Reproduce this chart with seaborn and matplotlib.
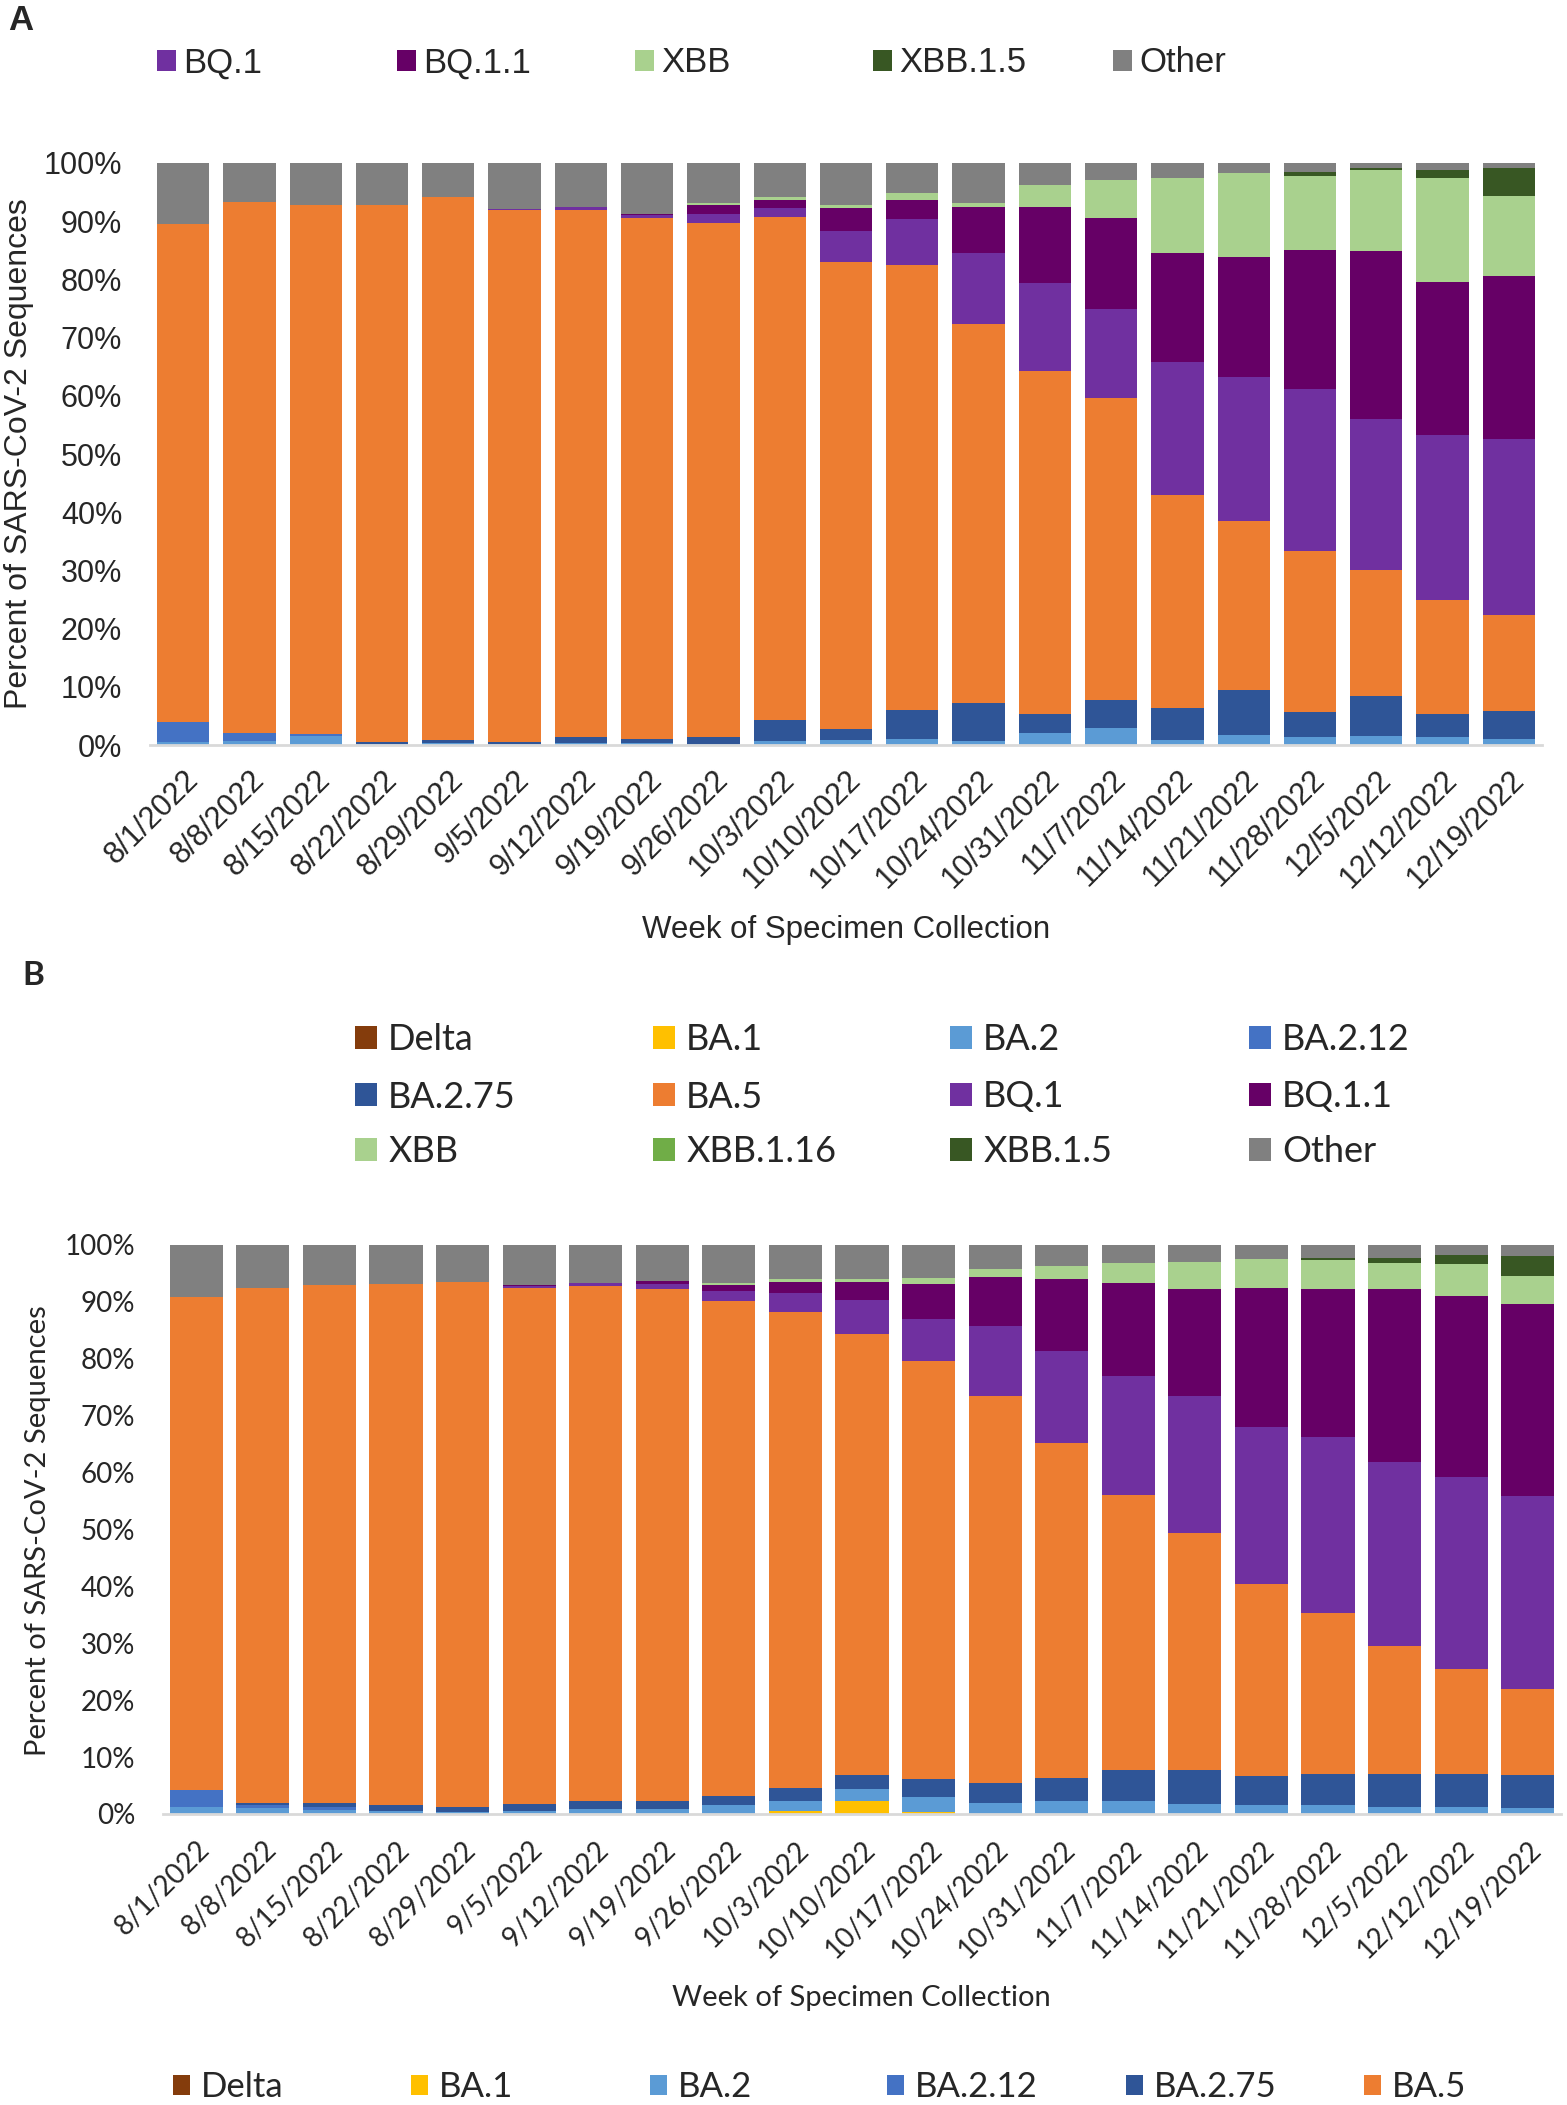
import numpy as np
import pandas as pd
import seaborn as sns
import matplotlib.pyplot as plt
from matplotlib.patches import Patch

# week labels (x axis)
weeks = ["8/1/2022", "8/8/2022", "8/15/2022", "8/22/2022", "8/29/2022", "9/5/2022",
         "9/12/2022", "9/19/2022", "9/26/2022", "10/3/2022", "10/10/2022", "10/17/2022",
         "10/24/2022", "10/31/2022", "11/7/2022", "11/14/2022", "11/21/2022", "11/28/2022",
         "12/5/2022", "12/12/2022", "12/19/2022"]

variants = ["Delta", "BA.1", "BA.2", "BA.2.12", "BA.2.75", "BA.5",
            "BQ.1", "BQ.1.1", "XBB", "XBB.1.16", "XBB.1.5", "Other"]

colors = {"Delta": "#843C0C", "BA.1": "#FFC000", "BA.2": "#5B9BD5", "BA.2.12": "#4472C4",
          "BA.2.75": "#2F5597", "BA.5": "#ED7D31", "BQ.1": "#7030A0", "BQ.1.1": "#660066",
          "XBB": "#A9D18E", "XBB.1.16": "#70AD47", "XBB.1.5": "#385723", "Other": "#808080"}

# ---- panel A: percent of sequences per week (Other = remainder) ----
a_ba2    = [0.5, 0.7, 1.5, 0.2, 0.3, 0.2, 0.3, 0.3, 0.2, 0.7, 0.8, 1.0, 0.7, 2.0, 3.0, 0.9, 1.7, 1.4, 1.6, 1.4, 1.0]
a_ba212  = [3.4, 1.3, 0.4, 0, 0, 0, 0, 0, 0, 0, 0, 0, 0, 0, 0, 0, 0, 0, 0, 0, 0]
a_ba275  = [0, 0, 0, 0.4, 0.5, 0.4, 1.1, 0.7, 1.2, 3.6, 1.9, 5.0, 6.6, 3.3, 4.7, 5.4, 7.7, 4.2, 6.9, 4.0, 4.9]
a_ba5    = [85.6, 91.3, 90.8, 92.1, 93.3, 91.3, 90.5, 89.5, 88.3, 86.4, 80.3, 76.4, 65.1, 58.9, 52.0, 36.6, 29.1, 27.8, 21.6, 19.6, 16.5]
a_bq1    = [0, 0, 0, 0, 0, 0.2, 0.5, 0.5, 1.5, 1.5, 5.3, 8.0, 12.2, 15.1, 15.2, 22.9, 24.8, 27.7, 25.9, 28.2, 30.2]
a_bq11   = [0, 0, 0, 0, 0, 0, 0, 0.2, 1.5, 1.4, 3.9, 3.2, 7.8, 13.1, 15.7, 18.8, 20.5, 24.0, 28.8, 26.4, 28.0]
a_xbb    = [0, 0, 0, 0, 0, 0, 0, 0, 0.4, 0.6, 0.5, 1.2, 0.7, 3.9, 6.5, 12.8, 14.4, 12.7, 14.0, 17.8, 13.7]
a_xbb15  = [0, 0, 0, 0, 0, 0, 0, 0, 0, 0, 0, 0, 0, 0, 0, 0, 0, 0.6, 0.3, 1.4, 4.8]

# ---- panel B ----
b_ba1    = [0, 0, 0, 0, 0, 0, 0, 0, 0, 0.6, 2.3, 0.3, 0, 0, 0, 0, 0, 0, 0, 0, 0]
b_ba2    = [1.2, 1.0, 0.7, 0.5, 0.4, 0.6, 0.9, 0.8, 1.6, 1.7, 2.1, 2.6, 2.0, 2.3, 2.3, 1.8, 1.5, 1.5, 1.3, 1.3, 1.0]
b_ba212  = [3.0, 0.6, 0.6, 0, 0, 0, 0, 0, 0, 0, 0, 0, 0, 0, 0, 0, 0, 0, 0, 0, 0]
b_ba275  = [0, 0.4, 0.7, 1.0, 0.8, 1.1, 1.4, 1.4, 1.5, 2.3, 2.5, 3.2, 3.5, 4.0, 5.4, 5.9, 5.1, 5.6, 5.8, 5.8, 5.8]
b_ba5    = [86.6, 90.5, 91.0, 91.7, 92.3, 90.8, 90.5, 90.1, 87.0, 83.7, 77.5, 73.5, 67.9, 58.9, 48.4, 41.7, 33.8, 28.2, 22.5, 18.4, 15.1]
b_bq1    = [0, 0, 0, 0, 0, 0.3, 0.5, 0.9, 1.8, 3.3, 6.0, 7.4, 12.3, 16.1, 20.9, 24.1, 27.7, 30.9, 32.3, 33.7, 34.0]
b_bq11   = [0, 0, 0, 0, 0, 0.1, 0, 0.4, 1.1, 1.9, 3.1, 6.2, 8.7, 12.7, 16.4, 18.8, 24.4, 26.0, 30.3, 31.8, 33.8]
b_xbb    = [0, 0, 0, 0, 0, 0, 0, 0, 0.4, 0.5, 0.5, 1.0, 1.3, 2.3, 3.5, 4.7, 5.0, 5.2, 4.7, 5.6, 4.8]
b_xbb15  = [0, 0, 0, 0, 0, 0, 0, 0, 0, 0, 0, 0, 0, 0, 0, 0, 0, 0.4, 0.8, 1.6, 3.5]

shares_a = {"BA.2": a_ba2, "BA.2.12": a_ba212, "BA.2.75": a_ba275, "BA.5": a_ba5,
            "BQ.1": a_bq1, "BQ.1.1": a_bq11, "XBB": a_xbb, "XBB.1.5": a_xbb15}
shares_b = {"BA.1": b_ba1, "BA.2": b_ba2, "BA.2.12": b_ba212, "BA.2.75": b_ba275, "BA.5": b_ba5,
            "BQ.1": b_bq1, "BQ.1.1": b_bq11, "XBB": b_xbb, "XBB.1.5": b_xbb15}

ARIAL = "Liberation Sans"
CALIBRI = "Lato"

sns.set_theme(style="white")
W, H = 1567, 2105
fig = plt.figure(figsize=(W / 100, H / 100), dpi=100)


def fx(px):
    return px / W


def fy(px):
    return 1 - px / H


def draw_stack(ax, shares, width):
    df = pd.DataFrame(shares, index=weeks)
    df["Other"] = 100 - df.sum(axis=1)
    cum = df.cumsum(axis=1)
    # tallest cumulative first, each lower layer drawn over it
    for v in reversed(df.columns):
        sns.barplot(x=weeks, y=cum[v].values, order=weeks, color=colors[v],
                    saturation=1, width=width, errorbar=None, ax=ax, linewidth=0)


def style_axes(ax, family, tsize, xpad, ypad):
    ax.set_ylim(0, 100)
    ax.set_xlim(-0.5, len(weeks) - 0.5)
    ax.set_yticks(np.arange(0, 101, 10))
    ax.set_yticklabels([f"{v}%" for v in range(0, 101, 10)], family=family, size=tsize)
    ax.set_xticks(range(len(weeks)))
    ax.set_xticklabels(weeks, rotation=45, ha="right", rotation_mode="anchor",
                       family=family, size=tsize)
    ax.tick_params(axis="both", length=0)
    ax.tick_params(axis="x", pad=xpad)
    ax.tick_params(axis="y", pad=ypad)
    for s in ["top", "right", "left"]:
        ax.spines[s].set_visible(False)
    ax.spines["bottom"].set_color("#D9D9D9")
    ax.spines["bottom"].set_linewidth(2)
    ax.set_xlabel("")
    ax.set_ylabel("")


def legend_entry(label, x, y, family, size, hl, tp):
    fig.legend([Patch(facecolor=colors[label], edgecolor="none")], [label],
               loc="center left", bbox_to_anchor=(fx(x), fy(y)), frameon=False,
               handlelength=hl, handleheight=hl, handletextpad=tp,
               borderpad=0, borderaxespad=0, prop={"family": family, "size": size})


# ---------------- panel A ----------------
axA = fig.add_axes([fx(150), fy(745), fx(1542) - fx(150), fy(163) - fy(745)])
draw_stack(axA, shares_a, 0.79)
style_axes(axA, ARIAL, 22, 14, 20)
fig.text(fx(846), fy(930), "Week of Specimen Collection", family=ARIAL, size=22.5,
         ha="center", va="center")
fig.text(fx(19), fy(454), "Percent of SARS-CoV-2 Sequences", family=ARIAL, size=23,
         rotation=90, ha="center", va="center")
fig.text(fx(8), fy(21), "A", family=ARIAL, size=25, weight="bold", ha="left", va="center")

for lab, x in zip(["BQ.1", "BQ.1.1", "XBB", "XBB.1.5", "Other"], [157, 397, 635, 873, 1113]):
    legend_entry(lab, x, 63, ARIAL, 25, 0.55, 0.2)

# ---------------- panel B ----------------
axB = fig.add_axes([fx(163), fy(1814), fx(1561) - fx(163), fy(1245) - fy(1814)])
draw_stack(axB, shares_b, 0.8)
style_axes(axB, CALIBRI, 20, 16, 20)
fig.text(fx(861), fy(1998), "Week of Specimen Collection", family=CALIBRI, size=21,
         ha="center", va="center")
fig.text(fx(38), fy(1531), "Percent of SARS-CoV-2 Sequences", family=CALIBRI, size=21,
         rotation=90, ha="center", va="center")
fig.text(fx(22), fy(976), "B", family=CALIBRI, size=24, weight="bold", ha="left", va="center")

leg_cols = [355, 653, 950, 1249]
leg_rows = [1040, 1097, 1152]
for i, lab in enumerate(variants):
    legend_entry(lab, leg_cols[i % 4], leg_rows[i // 4], CALIBRI, 26, 0.62, 0.3)

# bottom row legend (cut at the image edge)
for lab, x in zip(["Delta", "BA.1", "BA.2", "BA.2.12", "BA.2.75", "BA.5"],
                  [173, 411, 650, 887, 1126, 1364]):
    legend_entry(lab, x, 2087, CALIBRI, 25, 0.5, 0.3)

fig.savefig("out.png", dpi=100)
